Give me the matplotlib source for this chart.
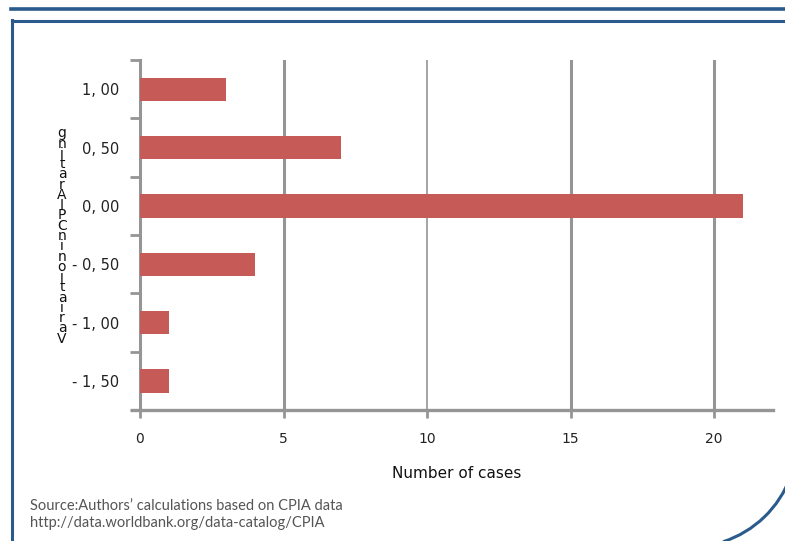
import matplotlib
matplotlib.use("Agg")
import matplotlib.pyplot as plt
from matplotlib.lines import Line2D
from matplotlib.patches import Arc
from matplotlib.transforms import Affine2D
import numpy as np

# Distribution of changes in CPIA rating
categories = ["1, 00", "0, 50", "0, 00", "- 0, 50", "- 1, 00", "- 1, 50"]
cases = [3, 7, 21, 4, 1, 1]
x_ticks = [0, 5, 10, 15, 20]
x_label = "Number of cases"
y_label = "Variation in CPIA rating"
source_lines = ["Source:Authors\u2019 calculations based on CPIA data",
                "http://data.worldbank.org/data-catalog/CPIA"]

W, H = 785, 541
fig = plt.figure(figsize=(W / 100, H / 100), dpi=100)
fig.patch.set_facecolor("white")

def px(x, y):
    return x / W, 1 - y / H

# page frame
blue = "#2B5B8C"
fig.add_artist(Line2D([px(11, 0)[0], 1.0], [px(0, 9)[1]] * 2, color=blue, lw=2.6))
fig.add_artist(Line2D([px(12, 0)[0], 1.0], [px(0, 21)[1]] * 2, color=blue, lw=2.2))
fig.add_artist(Line2D([px(12, 0)[0]] * 2, [px(0, 20)[1], 0.0], color=blue, lw=2.2))
# rounded corner at bottom right, given in pixel units
corner = Arc((690, H - 440), 214, 214, theta1=-72, theta2=-20, color=blue, lw=2.2,
             transform=Affine2D().scale(1 / W, 1 / H) + fig.transFigure)
fig.add_artist(corner)

ax = fig.add_axes([140 / W, 1 - 410 / H, (773 - 140) / W, (410 - 60) / H])
ax.set_facecolor("white")

pos = np.arange(len(categories))[::-1]
ax.barh(pos, cases, height=0.4, color="#C65A57", zorder=3)

ax.set_xlim(0, 22.05)
ax.set_ylim(-0.5, len(categories) - 0.5)

grey = "#959595"
# vertical gridlines
for v in x_ticks[1:]:
    ax.axvline(v, color=grey, lw=1.2 if v == 10 else 2.2, zorder=1)

for s in ["top", "right", "bottom"]:
    ax.spines[s].set_visible(False)
ax.spines["left"].set_color(grey)
ax.spines["left"].set_linewidth(2.2)
ax.add_line(Line2D([-0.012, 1.0], [0, 0], transform=ax.transAxes, color=grey,
                   lw=2.4, clip_on=False, zorder=4))

ax.set_xticks(x_ticks)
ax.set_xticklabels([str(t) for t in x_ticks])
ax.tick_params(axis="x", direction="out", length=6, width=2, color=grey,
               labelsize=10, labelcolor="#222222", pad=10)

ax.set_yticks(pos)
ax.set_yticklabels(categories)
ax.tick_params(axis="y", which="major", length=0, labelsize=10.5,
               labelcolor="#222222", pad=15)
ax.set_yticks(np.arange(-0.5, len(categories), 1.0), minor=True)
ax.tick_params(axis="y", which="minor", direction="out", length=7, width=2,
               color=grey)

ax.set_xlabel(x_label, fontsize=11, color="#111111", labelpad=14)

# stacked y-axis label, read bottom to top
stacked = "\n".join(c for c in reversed(y_label) if c != " ")
fx, fy = px(62, 236)
fig.text(fx, fy, stacked, fontsize=10, color="#111111", ha="center",
         va="center", multialignment="center", linespacing=0.66)

for i, line in enumerate(source_lines):
    fx, fy = px(30, 506 + i * 17)
    fig.text(fx, fy, line, fontsize=10.5, color="#555555", family="Lato",
             ha="left", va="center")

fig.savefig("out.png", dpi=100, facecolor="white")
